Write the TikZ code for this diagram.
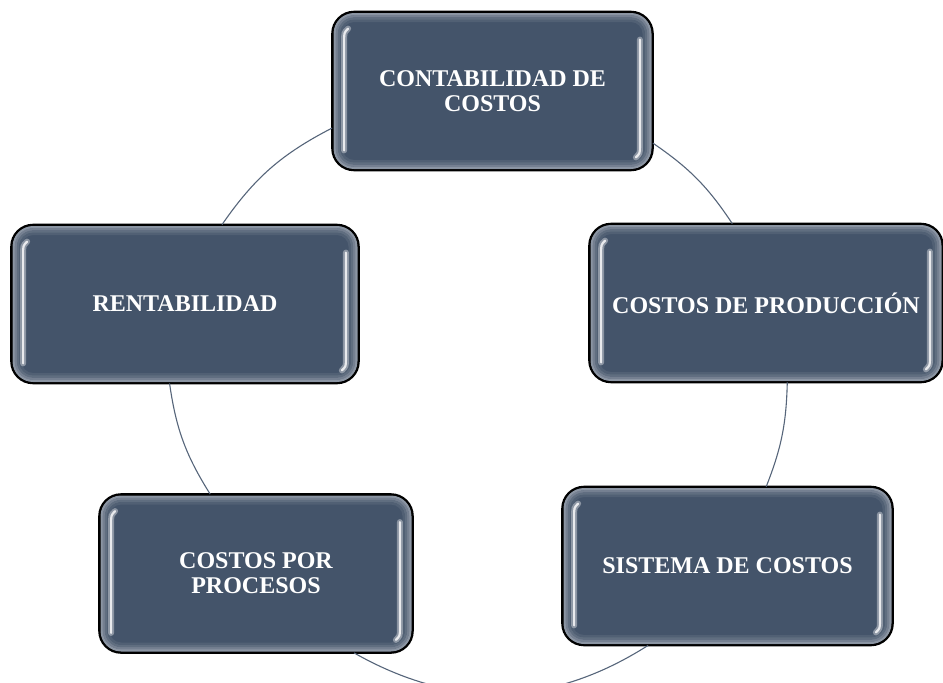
\documentclass[tikz,border=0pt]{standalone}
\usepackage{fontspec}
\setmainfont{Liberation Serif}
\usetikzlibrary{positioning,calc}

\definecolor{fondo}{HTML}{44546A}
\definecolor{aro}{HTML}{56657A}

\tikzset{
  caja/.style={draw=black, line width=1.8pt, fill=fondo, rounded corners=22pt,
    text=white, font=\fontsize{24}{25}\selectfont\bfseries, align=center,
    minimum height=157pt, inner sep=0pt},
  ring/.style={draw=aro, line width=1.1pt},
  halo/.style={line width=6pt, draw=fondo!45!white, opacity=.7, line cap=round},
  luz/.style={line width=2.2pt, draw=white!88!fondo, line cap=round}
}

% bisel y reflejos de cada caja
\newcommand{\brillo}[1]{%
  \foreach \d/\r/\c in {2.6/19.4/62, 4.8/17.2/74, 7/15/85, 9.2/12.8/93}{
    \draw[draw=fondo!\c!white, line width=2.4pt, rounded corners=\r pt]
      ([shift={(\d,\d)}]#1.north west) rectangle ([shift={(-\d,-\d)}]#1.south east);
  }
  \foreach \s in {halo,luz}{
    \draw[\s] ([shift={(16,17)}]#1.north west) .. controls ([shift={(12,21)}]#1.north west)
      .. ([shift={(12,30)}]#1.north west) -- ([shift={(12,-20)}]#1.south west);
    \draw[\s] ([shift={(-13,28)}]#1.north east) -- ([shift={(-13,-24)}]#1.south east)
      .. controls ([shift={(-13,-17)}]#1.south east) .. ([shift={(-17,-13)}]#1.south east);
  }
  \draw[black, line width=1.8pt, rounded corners=22pt] (#1.north west) rectangle (#1.south east);
}

\begin{document}
\begin{tikzpicture}[x=1pt, y=-1pt]
    \useasboundingbox (0,0) rectangle (943,683);

    \node[caja, minimum width=319pt] (conta) at (492.5,91) {CONTABILIDAD DE\\COSTOS};
    \node[caja, minimum width=352pt] (prod) at (766,303) {COSTOS DE PRODUCCIÓN};
    \node[caja, minimum width=329pt] (sist) at (727.5,566) {SISTEMA DE COSTOS};
    \node[caja, minimum width=312pt] (proc) at (256,573.5) {COSTOS POR\\PROCESOS};
    \node[caja, minimum width=346pt] (rent) at (185,304) {RENTABILIDAD};

    \foreach \n in {conta,prod,sist,proc,rent}
      \brillo{\n};

    \path[ring]
    (conta.193) edge[bend right=14] (rent.65)
    (rent.259) edge[bend right=12] (proc.120)
    (proc.321) edge[bend right=31] (sist.225.5)
    (sist.64) edge[bend right=10] (prod.285)
    (prod.113) edge[bend right=11] (conta.342);
  \end{tikzpicture}
\end{document}
